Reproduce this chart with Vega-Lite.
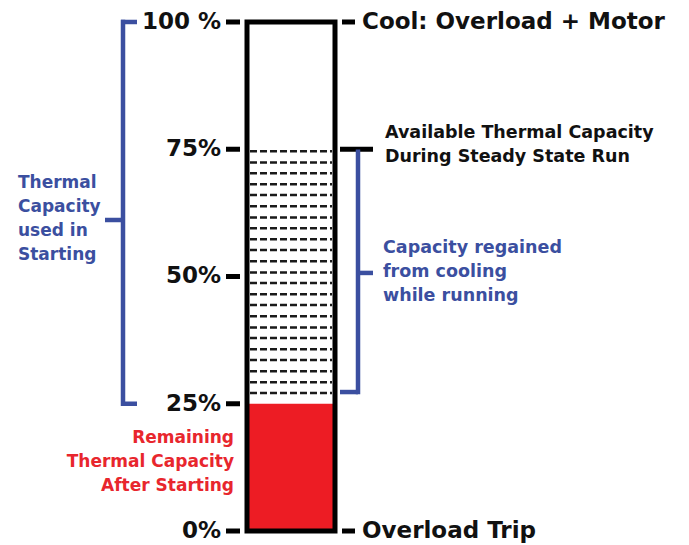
{
  "$schema": "https://vega.github.io/schema/vega-lite/v6.json",
  "width": 689,
  "height": 545,
  "padding": 0,
  "autosize": {"type": "none"},
  "background": "#ffffff",
  "config": {"view": {"stroke": null}},
  "encoding": {
    "y": {"field": "v", "type": "quantitative", "scale": {"domain": [-2.75, 104.32], "nice": false, "zero": false}, "axis": null}
  },
  "layer": [
    {
      "data": {"values": [{"v": 0, "v2": 25}]},
      "mark": {"type": "rect", "color": "#ed1c24"},
      "encoding": {
        "x": {"datum": 249, "type": "quantitative", "scale": {"domain": [0, 689], "nice": false, "zero": false}, "axis": null},
        "x2": {"datum": 333},
        "y2": {"field": "v2"}
      }
    },
    {
      "data": {"values": [{"v": 74.6}, {"v": 72.4}, {"v": 70.3}, {"v": 68.1}, {"v": 66.0}, {"v": 63.8}, {"v": 61.6}, {"v": 59.5}, {"v": 57.3}, {"v": 55.2}, {"v": 53.0}, {"v": 50.8}, {"v": 48.7}, {"v": 46.5}, {"v": 44.4}, {"v": 42.2}, {"v": 40.0}, {"v": 37.9}, {"v": 35.7}, {"v": 33.6}, {"v": 31.4}, {"v": 29.2}, {"v": 27.1}]},
      "mark": {"type": "rule", "color": "#1a1a1a", "strokeWidth": 2.5, "strokeDash": [7, 3]},
      "encoding": {
        "x": {"datum": 250, "type": "quantitative", "scale": {"domain": [0, 689], "nice": false, "zero": false}, "axis": null},
        "x2": {"datum": 332}
      }
    },
    {
      "data": {"values": [{"v": 0, "v2": 100}]},
      "mark": {"type": "rect", "filled": false, "stroke": "#000000", "strokeWidth": 5},
      "encoding": {
        "x": {"datum": 247, "type": "quantitative", "scale": {"domain": [0, 689], "nice": false, "zero": false}, "axis": null},
        "x2": {"datum": 335},
        "y2": {"field": "v2"}
      }
    },
    {
      "data": {"values": [{"v": 0}, {"v": 25}, {"v": 50}, {"v": 75}, {"v": 100}]},
      "mark": {"type": "rule", "color": "#000000", "strokeWidth": 5},
      "encoding": {
        "x": {"datum": 226, "type": "quantitative", "scale": {"domain": [0, 689], "nice": false, "zero": false}, "axis": null},
        "x2": {"datum": 240}
      }
    },
    {
      "data": {"values": [{"v": 0}, {"v": 100}]},
      "mark": {"type": "rule", "color": "#000000", "strokeWidth": 5},
      "encoding": {
        "x": {"datum": 342, "type": "quantitative", "scale": {"domain": [0, 689], "nice": false, "zero": false}, "axis": null},
        "x2": {"datum": 355}
      }
    },
    {
      "data": {"values": [{"v": 75}]},
      "mark": {"type": "rule", "color": "#000000", "strokeWidth": 5},
      "encoding": {
        "x": {"datum": 340, "type": "quantitative", "scale": {"domain": [0, 689], "nice": false, "zero": false}, "axis": null},
        "x2": {"datum": 373}
      }
    },
    {
      "data": {"values": [{"v": 100, "label": "100 %"}, {"v": 75, "label": "75%"}, {"v": 50, "label": "50%"}, {"v": 25, "label": "25%"}, {"v": 0, "label": "0%"}]},
      "mark": {"type": "text", "align": "right", "baseline": "middle", "font": "DejaVu Sans", "fontWeight": "bold", "fontSize": 23, "color": "#111111"},
      "encoding": {
        "x": {"datum": 221, "type": "quantitative", "scale": {"domain": [0, 689], "nice": false, "zero": false}, "axis": null},
        "text": {"field": "label"}
      }
    },
    {
      "data": {"values": [{"v": 100, "label": "Cool: Overload + Motor"}, {"v": 0, "label": "Overload Trip"}]},
      "mark": {"type": "text", "align": "left", "baseline": "middle", "font": "DejaVu Sans", "fontWeight": "bold", "fontSize": 23, "color": "#111111"},
      "encoding": {
        "x": {"datum": 362, "type": "quantitative", "scale": {"domain": [0, 689], "nice": false, "zero": false}, "axis": null},
        "text": {"field": "label"}
      }
    },
    {
      "data": {"values": [{"v": 78.2, "lines": ["Available Thermal Capacity", "During Steady State Run"]}]},
      "mark": {"type": "text", "align": "left", "baseline": "middle", "font": "DejaVu Sans", "fontWeight": "bold", "fontSize": 17.5, "lineHeight": 24.5, "color": "#111111"},
      "encoding": {
        "x": {"datum": 385, "type": "quantitative", "scale": {"domain": [0, 689], "nice": false, "zero": false}, "axis": null},
        "text": {"field": "lines"}
      }
    },
    {
      "data": {"values": [{"v": 68.4, "lines": ["Thermal", "Capacity", "used in", "Starting"]}]},
      "mark": {"type": "text", "align": "left", "baseline": "middle", "font": "DejaVu Sans", "fontWeight": "bold", "fontSize": 17, "lineHeight": 24, "color": "#3b4fa0"},
      "encoding": {
        "x": {"datum": 18, "type": "quantitative", "scale": {"domain": [0, 689], "nice": false, "zero": false}, "axis": null},
        "text": {"field": "lines"}
      }
    },
    {
      "data": {"values": [{"v": 55.6, "lines": ["Capacity regained", "from cooling", "while running"]}]},
      "mark": {"type": "text", "align": "left", "baseline": "middle", "font": "DejaVu Sans", "fontWeight": "bold", "fontSize": 17.5, "lineHeight": 24, "color": "#3b4fa0"},
      "encoding": {
        "x": {"datum": 383, "type": "quantitative", "scale": {"domain": [0, 689], "nice": false, "zero": false}, "axis": null},
        "text": {"field": "lines"}
      }
    },
    {
      "data": {"values": [{"v": 18.3, "lines": ["Remaining", "Thermal Capacity", "After Starting"]}]},
      "mark": {"type": "text", "align": "right", "baseline": "middle", "font": "DejaVu Sans", "fontWeight": "bold", "fontSize": 17, "lineHeight": 24, "color": "#e8262d"},
      "encoding": {
        "x": {"datum": 234, "type": "quantitative", "scale": {"domain": [0, 689], "nice": false, "zero": false}, "axis": null},
        "text": {"field": "lines"}
      }
    },
    {
      "data": {"values": [{"v": 25, "v2": 100}]},
      "mark": {"type": "rule", "color": "#3b4fa0", "strokeWidth": 4.5, "strokeCap": "square"},
      "encoding": {
        "x": {"datum": 123, "type": "quantitative", "scale": {"domain": [0, 689], "nice": false, "zero": false}, "axis": null},
        "y2": {"field": "v2"}
      }
    },
    {
      "data": {"values": [{"v": 25}, {"v": 100}]},
      "mark": {"type": "rule", "color": "#3b4fa0", "strokeWidth": 4.5},
      "encoding": {
        "x": {"datum": 121, "type": "quantitative", "scale": {"domain": [0, 689], "nice": false, "zero": false}, "axis": null},
        "x2": {"datum": 137}
      }
    },
    {
      "data": {"values": [{"v": 61.1}]},
      "mark": {"type": "rule", "color": "#3b4fa0", "strokeWidth": 4.5},
      "encoding": {
        "x": {"datum": 105, "type": "quantitative", "scale": {"domain": [0, 689], "nice": false, "zero": false}, "axis": null},
        "x2": {"datum": 123}
      }
    },
    {
      "data": {"values": [{"v": 27.3, "v2": 74.5}]},
      "mark": {"type": "rule", "color": "#3b4fa0", "strokeWidth": 4.5, "strokeCap": "square"},
      "encoding": {
        "x": {"datum": 358, "type": "quantitative", "scale": {"domain": [0, 689], "nice": false, "zero": false}, "axis": null},
        "y2": {"field": "v2"}
      }
    },
    {
      "data": {"values": [{"v": 27.3}]},
      "mark": {"type": "rule", "color": "#3b4fa0", "strokeWidth": 4.5},
      "encoding": {
        "x": {"datum": 340, "type": "quantitative", "scale": {"domain": [0, 689], "nice": false, "zero": false}, "axis": null},
        "x2": {"datum": 358}
      }
    },
    {
      "data": {"values": [{"v": 50.7}]},
      "mark": {"type": "rule", "color": "#3b4fa0", "strokeWidth": 4.5},
      "encoding": {
        "x": {"datum": 358, "type": "quantitative", "scale": {"domain": [0, 689], "nice": false, "zero": false}, "axis": null},
        "x2": {"datum": 373}
      }
    }
  ]
}
